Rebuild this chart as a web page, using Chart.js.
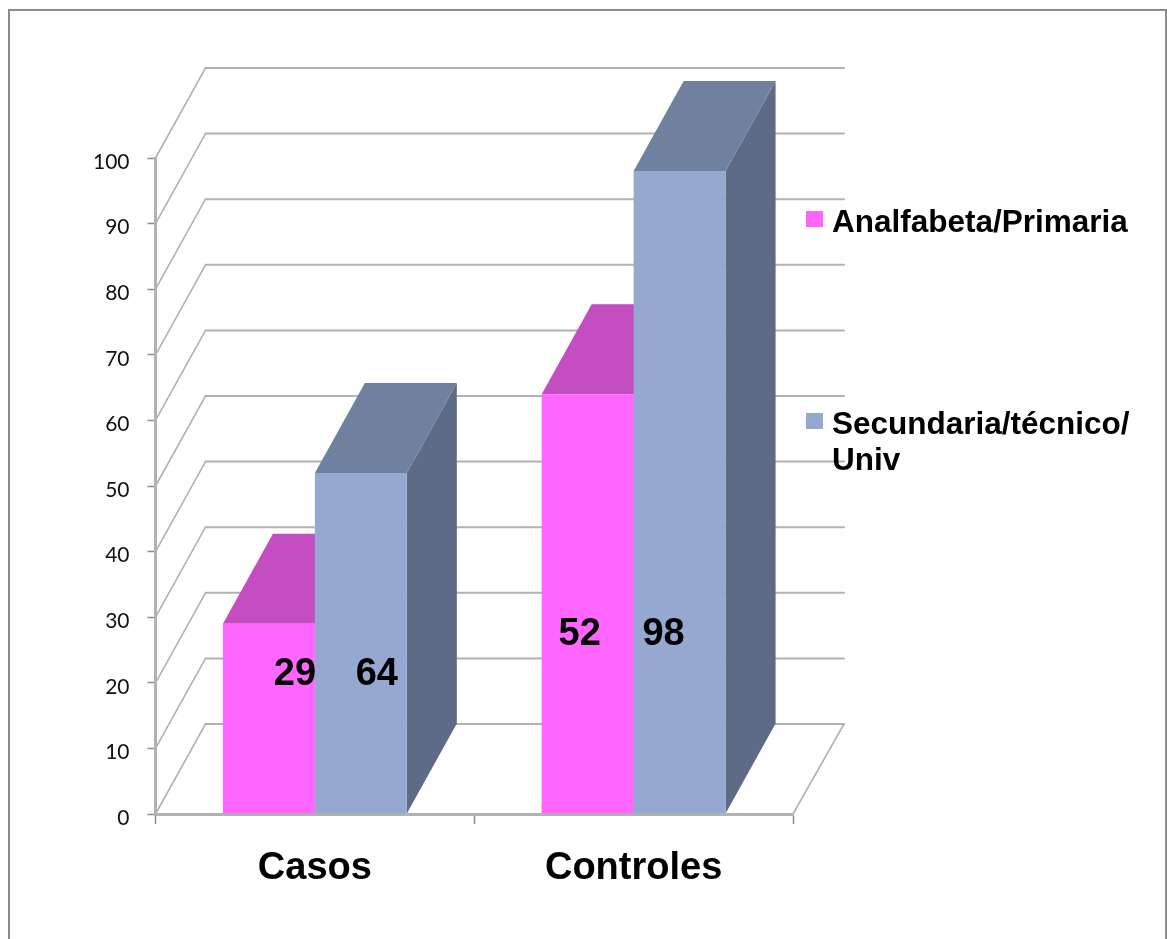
<!DOCTYPE html>
<html>
<head>
<meta charset="utf-8">
<style>html,body{margin:0;padding:0;background:#fff}#wrap{width:1167px;height:939px}</style>
<script src="https://cdn.jsdelivr.net/npm/chart.js@4"></script>
</head>
<body>
<div id="wrap"><canvas id="c" width="1167" height="939"></canvas></div>
<script>
const categories = ['Casos', 'Controles'];
const analfabetaValues = [29, 64];
const secundariaValues = [52, 98];
const analfabetaPrinted = ['29', '52'];
const secundariaPrinted = ['64', '98'];
const seriesNames = ['Analfabeta/Primaria', 'Secundaria/técnico/ Univ'];
const legendLines = [['Analfabeta/Primaria'], ['Secundaria/técnico/', 'Univ']];
const yTicks = [0, 10, 20, 30, 40, 50, 60, 70, 80, 90, 100];

const DEPTH_X = 50, DEPTH_Y = -90;
const GRID = '#b2b2b2';
const faces = [
  { front: '#FF66FF', top: '#C44DC1', side: '#A63FA3' },
  { front: '#95A9D0', top: '#6F819F', side: '#5D6B87' }
];
// where the printed numbers sit relative to their bar: [dx from bar centre, y as an axis value]
const printedNudge = [[[26, 21.2], [-8, 27.4]], [[16, 21.2], [-16, 27.4]]];
const printedText = [analfabetaPrinted, secundariaPrinted];
const legendBaselines = [232, 434];

function poly(ctx, pts, fill) {
  ctx.beginPath();
  pts.forEach((p, i) => i ? ctx.lineTo(p[0], p[1]) : ctx.moveTo(p[0], p[1]));
  ctx.closePath();
  ctx.fillStyle = fill;
  ctx.fill();
}

const threeD = {
  id: 'threeD',
  beforeDraw(chart) {
    const ctx = chart.ctx;
    ctx.save();
    ctx.strokeStyle = '#8c8c8c';
    ctx.lineWidth = 2;
    ctx.beginPath();
    ctx.moveTo(9, 939); ctx.lineTo(9, 10); ctx.lineTo(1166, 10); ctx.lineTo(1166, 939);
    ctx.stroke();
    ctx.restore();
  },
  beforeDatasetsDraw(chart) {
    const ctx = chart.ctx, y = chart.scales.y, x = chart.scales.x;
    const L = x.left, R = x.right;
    ctx.save();
    ctx.strokeStyle = GRID;
    ctx.lineCap = 'round';
    yTicks.forEach(v => {
      const py = y.getPixelForValue(v);
      ctx.lineWidth = 1.6;
      ctx.beginPath();
      ctx.moveTo(L, py); ctx.lineTo(L + DEPTH_X, py + DEPTH_Y);
      ctx.stroke();
      ctx.lineWidth = 2;
      ctx.beginPath();
      ctx.moveTo(L + DEPTH_X, py + DEPTH_Y); ctx.lineTo(R + DEPTH_X + 1, py + DEPTH_Y);
      ctx.stroke();
    });
    const by = y.getPixelForValue(0);
    ctx.lineWidth = 1.6;
    ctx.beginPath();
    ctx.moveTo(R, by); ctx.lineTo(R + DEPTH_X + 1, by + DEPTH_Y);
    ctx.stroke();
    // top and side faces; the library's bars paint the front faces afterwards
    chart.data.datasets.forEach((ds, i) => {
      chart.getDatasetMeta(i).data.forEach(bar => {
        const l = bar.x - bar.width / 2, r = bar.x + bar.width / 2, t = bar.y, b = bar.base;
        poly(ctx, [[r, t], [r + DEPTH_X, t + DEPTH_Y], [r + DEPTH_X, b + DEPTH_Y], [r, b]], faces[i].side);
        poly(ctx, [[l, t], [l + DEPTH_X, t + DEPTH_Y], [r + DEPTH_X, t + DEPTH_Y], [r, t]], faces[i].top);
      });
    });
    ctx.restore();
  },
  afterDatasetsDraw(chart) {
    const ctx = chart.ctx, y = chart.scales.y;
    ctx.save();
    ctx.fillStyle = '#000';
    ctx.font = 'bold 38px "Liberation Sans"';
    ctx.textAlign = 'center';
    ctx.textBaseline = 'middle';
    chart.data.datasets.forEach((ds, i) => {
      chart.getDatasetMeta(i).data.forEach((bar, j) => {
        const n = printedNudge[i][j];
        ctx.fillText(printedText[i][j], bar.x + n[0], y.getPixelForValue(n[1]));
      });
    });
    // legend
    ctx.textAlign = 'left';
    ctx.textBaseline = 'alphabetic';
    ctx.font = 'bold 31.5px "Liberation Sans"';
    legendLines.forEach((lines, i) => {
      const base = legendBaselines[i];
      ctx.fillStyle = faces[i].front;
      ctx.fillRect(806, base - 21, 17, 16);
      ctx.fillStyle = '#000';
      lines.forEach((t, k) => ctx.fillText(t, 832, base + k * 36));
    });
    ctx.restore();
  }
};

new Chart(document.getElementById('c'), {
  type: 'bar',
  data: {
    labels: categories,
    datasets: [
      { label: seriesNames[0], data: analfabetaValues, backgroundColor: faces[0].front },
      { label: seriesNames[1], data: secundariaValues, backgroundColor: faces[1].front }
    ]
  },
  plugins: [threeD],
  options: {
    responsive: false,
    animation: false,
    events: [],
    layout: { padding: { left: 0, right: 374, top: 158, bottom: 0 } },
    datasets: { bar: { barPercentage: 1, categoryPercentage: 0.577 } },
    plugins: { legend: { display: false }, tooltip: { enabled: false }, title: { display: false } },
    scales: {
      x: {
        afterFit(s) { s.height = 125; },
        border: { color: GRID, width: 3 },
        grid: { drawOnChartArea: false, drawTicks: true, tickLength: 10, tickColor: '#8c8c8c', tickWidth: 1.5 },
        ticks: { color: '#000', padding: 22, font: { family: 'Liberation Sans', size: 38, weight: 'bold' }, maxRotation: 0 }
      },
      y: {
        min: 0, max: 100,
        afterFit(s) { s.width = 155.5; },
        afterBuildTicks(s) { s.ticks = yTicks.map(v => ({ value: v })); },
        border: { color: GRID, width: 3 },
        grid: { drawOnChartArea: false, drawTicks: true, tickLength: 8, tickColor: '#8c8c8c', tickWidth: 1.5 },
        ticks: { color: '#111', padding: 18, labelOffset: 4, font: { family: 'Lato', size: 21 } }
      }
    }
  }
});
</script>
</body>
</html>
